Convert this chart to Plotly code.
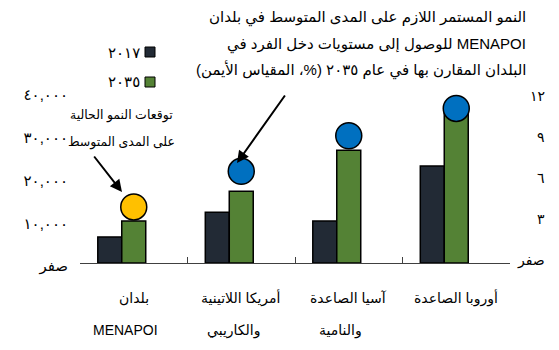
import plotly.graph_objects as go

# Regions compared with MENAPOI (first line of each label / second line)
regions = ["بلدان", "أمريكا اللاتينية", "آسيا الصاعدة", "أوروبا الصاعدة"]
regions_second_line = ["MENAPOI", "والكاريبي", "والنامية", ""]

# Per-capita income (left axis) in 2017 and 2035
income_2017 = [6100, 11900, 9800, 22700]
income_2035 = [9800, 16800, 26400, 35600]

# Medium-term growth (%, right axis): current forecast, then required rates
growth_rates = [4.1, 6.7, 9.3, 11.3]
growth_colors = ["#FFC000", "#0070C0", "#0070C0", "#0070C0"]

left_ticks = [0, 10000, 20000, 30000, 40000]
left_tick_text = ["صفر", "١٠,٠٠٠", "٢٠,٠٠٠", "٣٠,٠٠٠", "٤٠,٠٠٠"]
right_ticks = [0, 3, 6, 9, 12]
right_tick_text = ["صفر", "٣", "٦", "٩", "١٢"]

legend_labels = ["٢٠١٧", "٢٠٣٥"]
bar_colors = ["#222A35", "#548235"]

note_required = [
    "النمو المستمر اللازم على المدى المتوسط في بلدان",
    "للوصول إلى مستويات دخل الفرد في MENAPOI",
    "البلدان المقارن بها في عام ٢٠٣٥ (%، المقياس الأيمن)",
]
note_current = ["توقعات النمو الحالية", "على المدى المتوسط"]

# Page geometry
W, H = 559, 350
L, R, T, B = 80, 49, 92, 87
PW, PH = W - L - R, H - T - B
FONT = "Liberation Sans, DejaVu Sans, sans-serif"


def px_x(x):
    return (x - L) / PW


def px_y(y):
    return (H - B - y) / PH


bar_w = 0.223
fig = go.Figure()
fig.add_trace(go.Bar(
    x=regions, y=income_2017, width=bar_w, offset=-1.5 * bar_w,
    marker=dict(color=bar_colors[0], line=dict(color="black", width=1.5)),
    name=legend_labels[0], hoverinfo="skip",
))
fig.add_trace(go.Bar(
    x=regions, y=income_2035, width=bar_w, offset=-0.5 * bar_w,
    marker=dict(color=bar_colors[1], line=dict(color="black", width=1.5)),
    name=legend_labels[1], hoverinfo="skip",
))
fig.add_trace(go.Scatter(
    x=regions, y=growth_rates, yaxis="y2", mode="markers",
    marker=dict(size=26, color=growth_colors, line=dict(color="black", width=1.5)),
    cliponaxis=False, hoverinfo="skip",
))

annotations = []
# Two-line category labels under the axis
for name, second in zip(regions, regions_second_line):
    annotations.append(dict(
        x=name, xref="x", y=px_y(298), yref="paper", text=name, showarrow=False,
        xanchor="center", yanchor="middle", font=dict(family=FONT, size=14, color="black"),
    ))
    if second:
        annotations.append(dict(
            x=name, xref="x", y=px_y(330), yref="paper", text=second, showarrow=False,
            xanchor="center", yanchor="middle", xshift=-8,
            font=dict(family=FONT, size=14, color="black"),
        ))

# Right-axis labels, right-aligned against the page edge
for val, txt in zip(right_ticks, right_tick_text):
    annotations.append(dict(
        x=px_x(547), xref="paper", y=val, yref="y2", text=txt, showarrow=False,
        xanchor="right", yanchor="middle", yshift=3,
        font=dict(family=FONT, size=14, color="black"),
    ))

# Legend: label to the left of its swatch
shapes = []
for label, color, yc in zip(legend_labels, bar_colors, [52, 82]):
    shapes.append(dict(
        type="rect", xref="paper", yref="paper",
        x0=px_x(145), x1=px_x(155), y0=px_y(yc + 5), y1=px_y(yc - 5),
        fillcolor=color, line=dict(color="black", width=1),
    ))
    annotations.append(dict(
        x=px_x(142), y=px_y(yc), xref="paper", yref="paper", text=label,
        showarrow=False, xanchor="right", yanchor="middle",
        font=dict(family=FONT, size=15, color="black"),
    ))

# Callout for the required growth rates
for line, yc in zip(note_required, [17, 44, 70]):
    annotations.append(dict(
        x=px_x(528), y=px_y(yc), xref="paper", yref="paper", text=line,
        showarrow=False, xanchor="right", yanchor="middle",
        font=dict(family=FONT, size=15, color="black"),
    ))
annotations.append(dict(
    x=px_x(237), y=px_y(163), xref="paper", yref="paper", text="",
    showarrow=True, arrowhead=2, arrowwidth=2, arrowsize=1.2, arrowcolor="black",
    ax=49, ay=-69,
))

# Callout for the current growth forecast
for line, yc in zip(note_current, [115, 142]):
    annotations.append(dict(
        x=px_x(121), y=px_y(yc), xref="paper", yref="paper", text=line,
        showarrow=False, xanchor="center", yanchor="middle",
        font=dict(family=FONT, size=12.5, color="black"),
    ))
annotations.append(dict(
    x=px_x(122), y=px_y(192), xref="paper", yref="paper", text="",
    showarrow=True, arrowhead=2, arrowwidth=2, arrowsize=1.2, arrowcolor="black",
    ax=-29, ay=-37,
))

fig.update_layout(
    width=W, height=H,
    margin=dict(l=L, r=R, t=T, b=B),
    paper_bgcolor="white", plot_bgcolor="white",
    barmode="overlay", showlegend=False,
    font=dict(family=FONT, size=14, color="black"),
    xaxis=dict(
        type="category", range=[-0.5, 3.5], showticklabels=False,
        showline=True, linecolor="#404040", linewidth=1,
        ticks="inside", tickson="boundaries", ticklen=6, tickcolor="#404040",
        showgrid=False, zeroline=False,
    ),
    yaxis=dict(
        range=[0, 40000], tickvals=left_ticks, ticktext=left_tick_text,
        showgrid=False, zeroline=False, showline=False, ticks="",
        ticklabelstandoff=11, ticklabelshift=3,
        tickfont=dict(family=FONT, size=15, color="black"),
    ),
    yaxis2=dict(
        range=[0, 12.5], tickvals=right_ticks, showticklabels=False,
        overlaying="y", side="right", showgrid=False, zeroline=False,
        showline=False, ticks="",
    ),
    annotations=annotations, shapes=shapes,
)

fig.write_html("out.html")
